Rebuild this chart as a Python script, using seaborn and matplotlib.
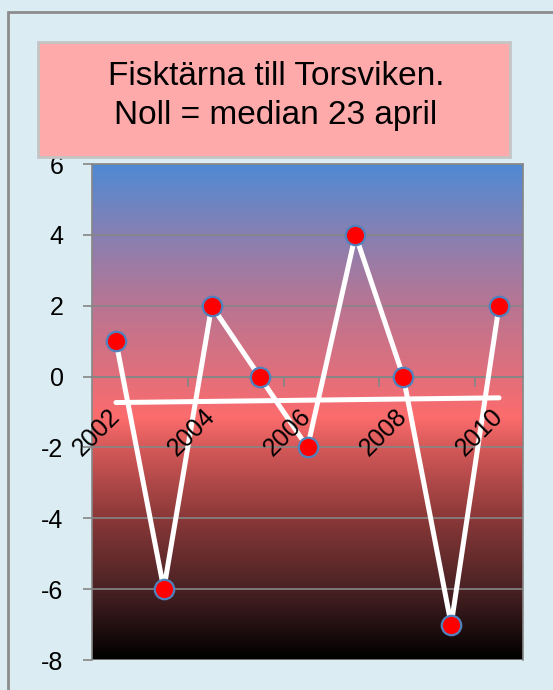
import matplotlib
matplotlib.use('Agg')
import matplotlib.pyplot as plt
import numpy as np
import pandas as pd
import seaborn as sns
from matplotlib.colors import LinearSegmentedColormap
from matplotlib.patches import Rectangle

sns.set_style('white')
plt.rcParams['font.family'] = ['Liberation Sans', 'DejaVu Sans']
plt.rcParams['axes.unicode_minus'] = False

# data
years = [2002, 2003, 2004, 2005, 2006, 2007, 2008, 2009, 2010]
deviation = [1, -6, 2, 0, -2, 4, 0, -7, 2]
title_text = 'Fisktärna till Torsviken.\nNoll = median 23 april'

df = pd.DataFrame({'pos': np.arange(len(years)), 'dev': deviation})

fig = plt.figure(figsize=(5.53, 6.9), dpi=100)
fig.patch.set_facecolor('#DBEDF3')
ax = fig.add_axes([92/553, 30/690, 431/553, 496/690])

# gradient plot area (bottom -> top)
bg = LinearSegmentedColormap.from_list('bg', [
    (0.0, '#000000'), (0.143, '#4A2224'), (0.286, '#8A3838'),
    (0.429, '#D65959'), (0.49, '#FC6C6D'), (0.571, '#E26F7B'),
    (0.714, '#B97592'), (0.857, '#8880B2'), (1.0, '#4F89D4')])
ax.imshow(np.linspace(0, 1, 256).reshape(-1, 1), cmap=bg, origin='lower',
          extent=[0, 1, 0, 1], transform=ax.transAxes, aspect='auto', zorder=-1)

sns.regplot(data=df, x='pos', y='dev', scatter=False, ci=None, color='white',
            line_kws=dict(lw=3.6, solid_capstyle='round', zorder=3), ax=ax)
sns.lineplot(data=df, x='pos', y='dev', color='white', lw=3.6, marker='o',
             markersize=14, markerfacecolor='red', markeredgecolor='#4F81BD',
             markeredgewidth=1.6, ax=ax, zorder=4)

ax.set_xlim(-0.5, 8.5)
ax.set_ylim(-8, 6)
ax.set_xlabel('')
ax.set_ylabel('')
ax.set_yticks(range(-8, 7, 2))
ax.set_xticks(df['pos'][::2])
ax.set_xticklabels(years[::2])
ax.set_xticks([1.5, 3.5, 5.5, 7.5], minor=True)

ax.spines['bottom'].set_position(('data', 0))
for s in ax.spines.values():
    s.set_color('#868686')
    s.set_linewidth(1.2)
ax.set_axisbelow(True)
ax.yaxis.grid(True, color='#868686', lw=1.2)
ax.xaxis.set_zorder(5)

ax.tick_params(axis='x', which='major', length=0, pad=26, labelsize=18,
               labelcolor='black')
ax.tick_params(axis='x', which='minor', length=7, width=1.2, color='#868686',
               direction='out', bottom=True)
ax.tick_params(axis='y', length=6.5, width=1.2, color='#868686', direction='out',
               left=True, pad=14, labelsize=18, labelcolor='black')
for lab in ax.get_xticklabels():
    lab.set_rotation(45)
    lab.set_ha('right')
    lab.set_va('center')
    lab.set_rotation_mode('anchor')

# outer chart border (left and top visible)
fig.patches.append(Rectangle((8/553, -0.5), 1.2, 1.5 - 12/690, transform=fig.transFigure,
                             facecolor='none', edgecolor='#8C8C8C', lw=2, zorder=1))
# title box
fig.patches.append(Rectangle((38/553, 1 - 157/690), 472/553, 115/690,
                             transform=fig.transFigure, facecolor='#FFAAAA',
                             edgecolor='#C4C4C4', lw=2, zorder=5))
fig.text(276/553, 1 - 96/690, title_text, ha='center', va='center', fontsize=24,
         linespacing=1.3, color='black', zorder=6)

fig.savefig('out.png', dpi=100, facecolor=fig.get_facecolor())
